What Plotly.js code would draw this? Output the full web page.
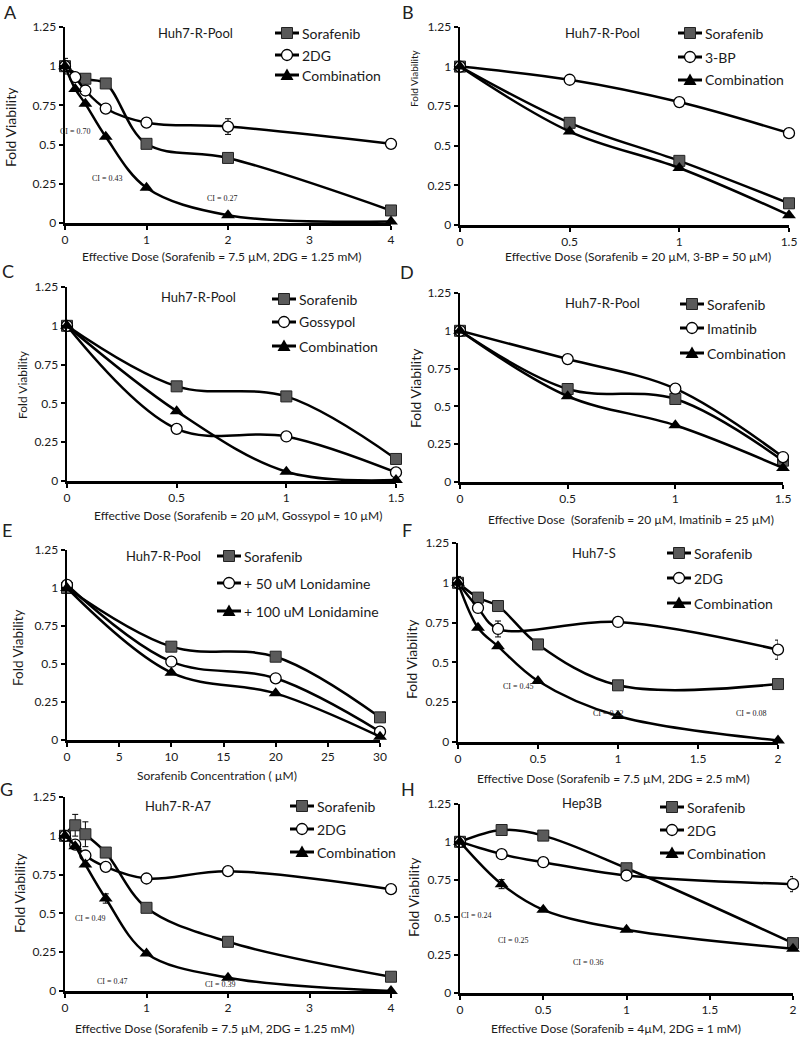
<!DOCTYPE html>
<html>
<head>
<meta charset="utf-8">
<script src="https://cdn.plot.ly/plotly-3.0.1.min.js"></script>
<style>html,body{margin:0;padding:0;background:#fff;}#chart{width:800px;height:1044px;}</style>
</head>
<body>
<div id="chart"></div>
<script>
// ---------- DATA ----------
const aNames = ['Sorafenib', '2DG', 'Combination'];
const aSoraX = [0, 0.25, 0.5, 1, 2, 4];
const aSoraY = [1, 0.92, 0.89, 0.505, 0.415, 0.08];
const a2dgX  = [0, 0.125, 0.25, 0.5, 1, 2, 4];
const a2dgY  = [1, 0.93, 0.845, 0.73, 0.64, 0.615, 0.505];
const a2dgE  = [0, 0, 0.03, 0, 0, 0.05, 0];
const aCombX = [0, 0.125, 0.25, 0.5, 1, 2, 4];
const aCombY = [1, 0.855, 0.76, 0.55, 0.225, 0.05, 0.01];
const aCombE = [0.05, 0, 0, 0, 0, 0, 0];
const aCI = ["CI = 0.70", "CI = 0.43", "CI = 0.27"];

const bNames = ['Sorafenib', '3-BP', 'Combination'];
const bX     = [0, 0.5, 1, 1.5];
const bSoraY = [1, 0.645, 0.405, 0.137];
const b3bpY  = [1, 0.917, 0.776, 0.58];
const bCombY = [1, 0.59, 0.36, 0.062];

const cNames = ['Sorafenib', 'Gossypol', 'Combination'];
const cX     = [0, 0.5, 1, 1.5];
const cSoraY = [1, 0.61, 0.545, 0.142];
const cGossY = [1, 0.336, 0.287, 0.055];
const cCombY = [1, 0.45, 0.06, 0.006];

const dNames = ['Sorafenib', 'Imatinib', 'Combination'];
const dX     = [0, 0.5, 1, 1.5];
const dSoraY = [1, 0.615, 0.549, 0.141];
const dImatY = [1, 0.813, 0.617, 0.165];
const dCombY = [1, 0.567, 0.375, 0.093];

const eNames  = ['Sorafenib', '+ 50 uM Lonidamine', '+ 100 uM Lonidamine'];
const eX      = [0, 10, 20, 30];
const eSoraY  = [1.0, 0.614, 0.548, 0.149];
const eLon50Y = [1.02, 0.515, 0.406, 0.055];
const eLon100Y= [1.0, 0.443, 0.307, 0.022];

const fNames = ['Sorafenib', '2DG', 'Combination'];
const fSoraX = [0, 0.125, 0.25, 0.5, 1, 2];
const fSoraY = [1, 0.907, 0.854, 0.613, 0.356, 0.364];
const f2dgX  = [0, 0.125, 0.25, 1, 2];
const f2dgY  = [1, 0.842, 0.71, 0.754, 0.58];
const f2dgE  = [0.04, 0, 0.05, 0, 0.06];
const fCombX = [0, 0.125, 0.25, 0.5, 1, 2];
const fCombY = [1, 0.718, 0.601, 0.383, 0.163, 0.01];
const fCI = ["CI = 0.45", "CI = 0.22", "CI = 0.08"];

const gNames = ['Sorafenib', '2DG', 'Combination'];
const gX     = [0, 0.125, 0.25, 0.5, 1, 2, 4];
const gSoraY = [1, 1.068, 1.01, 0.892, 0.536, 0.317, 0.092];
const gSoraE = [0, 0.07, 0.08, 0, 0, 0, 0];
const g2dgY  = [1, 0.943, 0.873, 0.80, 0.725, 0.772, 0.656];
const gCombY = [1, 0.933, 0.815, 0.596, 0.242, 0.086, 0.0];
const gCombE = [0, 0, 0, 0.03, 0, 0, 0];
const gCI = ["CI = 0.49", "CI = 0.47", "CI = 0.39"];

const hNames = ['Sorafenib', '2DG', 'Combination'];
const hX     = [0, 0.25, 0.5, 1, 2];
const hSoraY = [1, 1.078, 1.041, 0.825, 0.33];
const hSoraE = [0, 0, 0, 0, 0.03];
const h2dgY  = [1, 0.918, 0.865, 0.777, 0.72];
const h2dgE  = [0, 0, 0, 0, 0.05];
const hCombY = [1, 0.72, 0.55, 0.418, 0.293];
const hCombE = [0, 0.03, 0, 0, 0];
const hCI = ["CI = 0.24", "CI = 0.25", "CI = 0.36"];

// ---------- HELPERS ----------
const W = 800, H = 1044;
const FONT = "Lato, 'Open Sans', sans-serif";
const SERIF = "'Liberation Serif', 'DejaVu Serif', serif";
const fx = v => v / W;
const fy = v => 1 - v / H;

const SQ_FILL = '#5a5a5a', SQ_LINE = '#222';
const S_SORA = {symbol: 'square', size: 11, color: SQ_FILL, line: {color: SQ_LINE, width: 1}};
const S_CIRC = {symbol: 'circle', size: 11, color: '#ffffff', line: {color: '#000', width: 1.3}};
const S_TRI  = {symbol: 'triangle-up', size: 12, color: '#000', line: {color: '#000', width: 0}};

const traces = [];
function series(idx, name, x, y, marker, err) {
  const s = idx === 1 ? '' : idx;
  const t = {
    type: 'scatter', mode: 'lines+markers', name: name, x: x, y: y,
    xaxis: 'x' + s, yaxis: 'y' + s,
    line: {color: '#000', width: 2.5, shape: 'spline', smoothing: 1},
    marker: marker, cliponaxis: false, showlegend: false
  };
  if (err) t.error_y = {type: 'data', array: err, visible: true, color: '#000', thickness: 1, width: 3};
  traces.push(t);
}

series(1, aNames[0], aSoraX, aSoraY, S_SORA);
series(1, aNames[1], a2dgX, a2dgY, S_CIRC, a2dgE);
series(1, aNames[2], aCombX, aCombY, S_TRI, aCombE);
series(2, bNames[0], bX, bSoraY, S_SORA);
series(2, bNames[1], bX, b3bpY, S_CIRC);
series(2, bNames[2], bX, bCombY, S_TRI);
series(3, cNames[0], cX, cSoraY, S_SORA);
series(3, cNames[1], cX, cGossY, S_CIRC);
series(3, cNames[2], cX, cCombY, S_TRI);
series(4, dNames[0], dX, dSoraY, S_SORA);
series(4, dNames[1], dX, dImatY, S_CIRC);
series(4, dNames[2], dX, dCombY, S_TRI);
series(5, eNames[0], eX, eSoraY, S_SORA);
series(5, eNames[1], eX, eLon50Y, S_CIRC);
series(5, eNames[2], eX, eLon100Y, S_TRI);
series(6, fNames[0], fSoraX, fSoraY, S_SORA);
series(6, fNames[1], f2dgX, f2dgY, S_CIRC, f2dgE);
series(6, fNames[2], fCombX, fCombY, S_TRI);
series(7, gNames[0], gX, gSoraY, S_SORA, gSoraE);
series(7, gNames[1], gX, g2dgY, S_CIRC);
series(7, gNames[2], gX, gCombY, S_TRI, gCombE);
series(8, hNames[0], hX, hSoraY, S_SORA, hSoraE);
series(8, hNames[1], hX, h2dgY, S_CIRC, h2dgE);
series(8, hNames[2], hX, hCombY, S_TRI, hCombE);

const panels = [
  {L:'A', names:aNames, xd:[65,391],  yd:[27,223],  xr:[0,4],   dt:1,   lx:300, rows:[33,55,75],   letter:[10,12],  title:'Huh7-R-Pool', tp:[195,33],
   xt:'Effective Dose (Sorafenib = 7.5 µM, 2DG = 1.25 mM)', xtp:[222,257], yt:[10,127], ys:14},
  {L:'B', names:bNames, xd:[460,789], yd:[27,225],  xr:[0,1.5], dt:0.5, lx:703, rows:[33,57,80],   letter:[408,12], title:'Huh7-R-Pool', tp:[602,33],
   xt:'Effective Dose (Sorafenib = 20 µM, 3-BP = 50 µM)', xtp:[638,257], yt:[414,78], ys:10},
  {L:'C', names:cNames, xd:[67,396],  yd:[287,481], xr:[0,1.5], dt:0.5, lx:297, rows:[299,322,346], letter:[8,271],  title:'Huh7-R-Pool', tp:[198,297],
   xt:'Effective Dose (Sorafenib = 20 µM, Gossypol = 10 µM)', xtp:[238,515], yt:[22,385], ys:12},
  {L:'D', names:dNames, xd:[460,783], yd:[293,482], xr:[0,1.5], dt:0.5, lx:705, rows:[304,328,353], letter:[407,272], title:'Huh7-R-Pool', tp:[602,303],
   xt:'Effective Dose  (Sorafenib = 20 µM, Imatinib = 25 µM)', xtp:[631,519], yt:[415,388], ys:14},
  {L:'E', names:eNames, xd:[67,380],  yd:[550,740], xr:[0,30],  dt:5,   lx:242, rows:[556,583,611], letter:[7,530],  title:'Huh7-R-Pool', tp:[163,556],
   xt:'Sorafenib Concentration ( µM)', xtp:[217,775], yt:[18,648], ys:13.5},
  {L:'F', names:fNames, xd:[458,778], yd:[543,742], xr:[0,2],   dt:0.5, lx:692, rows:[553,578,603], letter:[407,530], title:'Huh7-S', tp:[594,553],
   xt:'Effective Dose (Sorafenib = 7.5 µM, 2DG = 2.5 mM)', xtp:[613,778], yt:[411,659], ys:14},
  {L:'G', names:gNames, xd:[65,391],  yd:[797,991], xr:[0,4],   dt:1,   lx:315, rows:[806,829,852], letter:[6,789],  title:'Huh7-R-A7', tp:[178,806],
   xt:'Effective Dose (Sorafenib = 7.5 µM, 2DG = 1.25 mM)', xtp:[215,1028], yt:[19,893], ys:14},
  {L:'H', names:hNames, xd:[460,793], yd:[804,993], xr:[0,2],   dt:0.5, lx:685, rows:[807,830,853], letter:[408,789], title:'Hep3B', tp:[582,803],
   xt:'Effective Dose (Sorafenib = 4µM, 2DG = 1 mM)', xtp:[616,1028], yt:[413,897], ys:14}
];

const layout = {
  width: W, height: H, margin: {l:0, r:0, t:0, b:0},
  paper_bgcolor: '#fff', plot_bgcolor: 'rgba(0,0,0,0)',
  font: {family: FONT, color: '#1a1a1a', size: 12},
  annotations: [], shapes: [], showlegend: false
};

// legend key: short line with the series marker on it
function legendKey(cx, cy, styleIdx) {
  const S = layout.shapes;
  S.push({type: 'line', xref: 'paper', yref: 'paper', layer: 'above',
          x0: fx(cx - 12), x1: fx(cx + 12), y0: fy(cy), y1: fy(cy), line: {color: '#000', width: 3}});
  if (styleIdx === 0) {
    S.push({type: 'rect', xref: 'paper', yref: 'paper', layer: 'above',
            x0: fx(cx - 5.5), x1: fx(cx + 5.5), y0: fy(cy + 5.5), y1: fy(cy - 5.5),
            fillcolor: SQ_FILL, line: {color: SQ_LINE, width: 1}});
  } else if (styleIdx === 1) {
    S.push({type: 'circle', xref: 'paper', yref: 'paper', layer: 'above',
            x0: fx(cx - 5.5), x1: fx(cx + 5.5), y0: fy(cy + 5.5), y1: fy(cy - 5.5),
            fillcolor: '#fff', line: {color: '#000', width: 1.3}});
  } else {
    const p = 'M' + fx(cx - 6.5) + ',' + fy(cy + 5) + ' L' + fx(cx + 6.5) + ',' + fy(cy + 5) +
              ' L' + fx(cx) + ',' + fy(cy - 6.5) + ' Z';
    S.push({type: 'path', xref: 'paper', yref: 'paper', layer: 'above', path: p,
            fillcolor: '#000', line: {color: '#000', width: 0}});
  }
}

panels.forEach((p, i) => {
  const n = i + 1, s = n === 1 ? '' : n;
  layout['xaxis' + s] = {
    domain: [fx(p.xd[0]), fx(p.xd[1])], range: p.xr, dtick: p.dt, tick0: 0,
    anchor: 'y' + s, showline: true, linewidth: 2.5, linecolor: '#000', mirror: false,
    ticks: 'outside', ticklen: 4, tickwidth: 2, tickcolor: '#000', showgrid: false, zeroline: false,
    tickfont: {size: 12, family: FONT, color: '#1a1a1a'}, fixedrange: true
  };
  layout['yaxis' + s] = {
    domain: [fy(p.yd[1]), fy(p.yd[0])], range: [0, 1.25], dtick: 0.25, tick0: 0,
    anchor: 'x' + s, showline: true, linewidth: 2.5, linecolor: '#000',
    ticks: 'outside', ticklen: 4, tickwidth: 2, tickcolor: '#000', showgrid: false, zeroline: false,
    tickfont: {size: 12, family: FONT, color: '#1a1a1a'}, fixedrange: true
  };
  const A = layout.annotations;
  A.push({text: p.L, x: fx(p.letter[0]), y: fy(p.letter[1]), xref: 'paper', yref: 'paper',
          showarrow: false, xanchor: 'center', yanchor: 'middle', font: {size: 18, family: FONT, color: '#222'}});
  A.push({text: p.title, x: fx(p.tp[0]), y: fy(p.tp[1]), xref: 'paper', yref: 'paper',
          showarrow: false, xanchor: 'center', yanchor: 'middle', font: {size: 13, family: FONT, color: '#1a1a1a'}});
  A.push({text: p.xt, x: fx(p.xtp[0]), y: fy(p.xtp[1]), xref: 'paper', yref: 'paper',
          showarrow: false, xanchor: 'center', yanchor: 'middle', font: {size: 12, family: FONT, color: '#1a1a1a'}});
  A.push({text: 'Fold Viability', x: fx(p.yt[0]), y: fy(p.yt[1]), xref: 'paper', yref: 'paper', textangle: -90,
          showarrow: false, xanchor: 'center', yanchor: 'middle', font: {size: p.ys, family: FONT, color: '#1a1a1a'}});
  p.rows.forEach((ry, j) => {
    legendKey(p.lx - 13, ry, j);
    A.push({text: p.names[j], x: fx(p.lx), y: fy(ry), xref: 'paper', yref: 'paper',
            showarrow: false, xanchor: 'left', yanchor: 'middle', font: {size: 14, family: FONT, color: '#1a1a1a'}});
  });
});

// CI (combination index) labels
const ciPos = {
  1: [[75,131],[107,178],[222,199]],
  6: [[518,686],[608,713],[751,713]],
  7: [[90,918],[113,981],[220,984]],
  8: [[477,915],[513,941],[588,962]]
};
const ciText = {1: aCI, 6: fCI, 7: gCI, 8: hCI};
Object.keys(ciPos).forEach(k => {
  ciPos[k].forEach((pos, j) => {
    layout.annotations.push({text: ciText[k][j], x: fx(pos[0]), y: fy(pos[1]), xref: 'paper', yref: 'paper',
      showarrow: false, xanchor: 'center', yanchor: 'middle', font: {size: 8, family: SERIF, color: '#222'}});
  });
});

Plotly.newPlot('chart', traces, layout, {staticPlot: true, displayModeBar: false});
</script>
</body>
</html>
